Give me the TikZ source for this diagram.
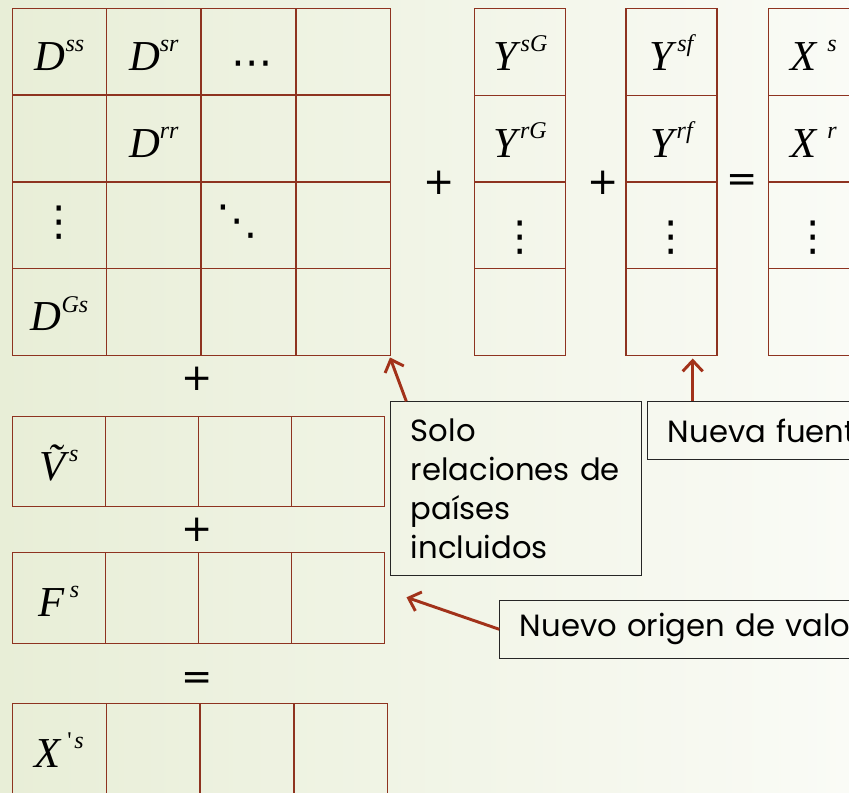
\documentclass[tikz,border=0pt]{standalone}
\usepackage{fontspec}
\setmainfont{Poppins}[WordSpace=1.6]
\newfontfamily\eqfont{Liberation Serif}
\newfontfamily\symfont{DejaVu Sans}
\usetikzlibrary{arrows.meta}

\definecolor{cellred}{HTML}{8E3320}
\definecolor{arrowred}{HTML}{A2321A}
\definecolor{bgleft}{HTML}{E8EED7}
\definecolor{bgright}{HTML}{FAFBF6}

% matrix entries in a Times-like italic
\newcommand{\mvar}[2]{{\eqfont\itshape\fontsize{32}{32}\selectfont #1\raisebox{14pt}{\fontsize{18}{18}\selectfont #2}}}

\tikzset{
  cell/.style={draw=cellred, line width=0.9pt, inner sep=0pt, outer sep=0pt},
  bigcell/.style={cell, line width=1.05pt, minimum width=70.9pt, minimum height=65.1pt},
  colcell/.style={cell, minimum width=68.2pt, minimum height=65.1pt},
  rowcell/.style={cell, minimum width=69.8pt, minimum height=67.8pt},
  entry/.style={inner sep=0pt, text height=28pt, text depth=0pt},
  dots/.style={inner sep=0pt, font=\symfont\fontsize{31}{31}\selectfont},
  sign/.style={inner sep=0pt, font=\symfont\fontsize{28}{28}\selectfont},
  note/.style={draw=black!85, line width=0.8pt, inner xsep=15pt, align=left,
    font=\fontsize{23}{29.25}\selectfont},
  pointer/.style={draw=arrowred, line width=2.2pt, -{Straight Barb[length=8pt,width=15pt]}}
}

\begin{document}
\begin{tikzpicture}[x=0.75pt, y=-0.75pt]
  \useasboundingbox (0,0) rectangle (849,792);
  \clip (0,0) rectangle (849,792);
  \shade[left color=bgleft, right color=bgright] (0,0) rectangle (849,792);

  % big matrix D
  \foreach \r/\y in {1/51.7,2/138.5,3/225.3,4/312}
    \foreach \c/\x in {1/59.5,2/153.8,3/248.3,4/343.2}
      \node [bigcell] (D-\r-\c) at (\x,\y) {};
  \node [entry] at (D-1-1) {\mvar{D}{ss}};
  \node [entry] at (D-1-2) {\mvar{D}{sr}};
  \node [dots, xshift=2.8pt, yshift=-12.5pt] at (D-1-3) {⋯};
  \node [entry] at (D-2-2) {\mvar{D}{rr}};
  \node [dots, yshift=2.2pt] at (D-3-1) {⋮};
  \node [dots, xshift=-8.5pt, yshift=3pt] at (D-3-3) {⋱};
  \node [entry] at (D-4-1) {\mvar{D}{Gs}};

  % final demand columns and output column
  \foreach \r/\y in {1/51.7,2/138.5,3/225.3,4/312} {
    \node [colcell] (YG-\r) at (520.2,\y) {};
    \node [colcell] (Yf-\r) at (671.5,\y) {};
    \node [colcell] (X-\r) at (813.6,\y) {};
  }
  \node [entry] at (YG-1) {\mvar{Y}{\hspace{3pt}sG}};
  \node [entry] at (YG-2) {\mvar{Y}{\hspace{2pt}rG}};
  \node [dots, yshift=-9pt] at (YG-3) {⋮};
  \node [entry] at (Yf-1) {\mvar{Y}{\hspace{3pt}sf}};
  \node [entry] at (Yf-2) {\mvar{Y}{\hspace{2pt}rf}};
  \node [dots, yshift=-9pt] at (Yf-3) {⋮};
  \node [entry] at (X-1) {\mvar{X}{\hspace{8pt}s}};
  \node [entry] at (X-2) {\mvar{X}{\hspace{8pt}r}};
  \node [dots, yshift=-9pt] at (X-3) {⋮};

  \node [sign] (plusA) at (439,183) {+};
  \node [sign] (plusB) at (602.7,183) {+};
  \node [sign] (eqA) at (741.7,183) {=};

  % value added rows
  \foreach \c/\x in {1/58.8,2/152,3/245.2,4/338} {
    \node [rowcell] (V-\c) at (\x,461.5) {};
    \node [rowcell] (F-\c) at (\x,597.9) {};
  }
  \foreach \c/\x in {1/59.3,2/153.2,3/247,4/340.9}
    \node [rowcell, minimum width=70.3pt] (Xp-\c) at (\x,748.7) {};
  \node [entry] at (V-1) {\mvar{\~{V}}{\hspace{3pt}s}};
  \node [entry] at (F-1) {\mvar{F}{\hspace{4pt}s}};
  \node [entry] at (Xp-1) {\mvar{X}{\hspace{5pt}{\upshape\textquotesingle}\hspace{2pt}s}};

  \node [sign] (plusC) at (197,379) {+};
  \node [sign] (plusD) at (197,530) {+};
  \node [sign] (eqB) at (197,681) {=};

  % notes
  \node [note, anchor=north west, text width=158pt, minimum height=130.5pt] (solo) at (390.3,401.3)
    {Solo\\relaciones de\\países\\incluidos};
  \node [note, anchor=north west, text width=200pt, minimum height=43.3pt] (fuente) at (647.3,401.3)
    {Nueva fuente};
  \node [note, anchor=west, text width=280pt, minimum height=43.5pt] (origen) at (499.3,629.3)
    {Nuevo origen de valor};

  \coordinate (tipD) at (390,357.5);
  \coordinate (tipY) at (692.7,358.5);
  \coordinate (tipF) at (406.5,597.3);
  \path [pointer] ([xshift=12pt]solo.north west) -- (tipD);
  \path [pointer] (fuente.north west -| tipY) -- (tipY);
  \path [pointer] (origen.west) -- (tipF);
\end{tikzpicture}
\end{document}
